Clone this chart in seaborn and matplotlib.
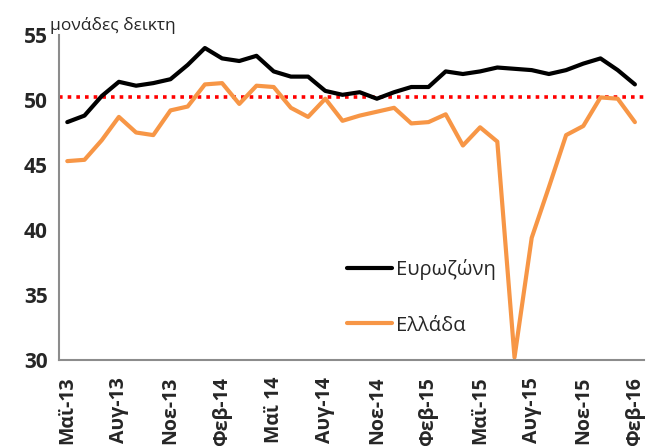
import pandas as pd
import matplotlib
matplotlib.use("Agg")
import matplotlib.pyplot as plt
from matplotlib.ticker import FixedLocator
import seaborn as sns

# ── Data (monthly, May-13 .. Feb-16) ──────────────────────────────────────────
months = [
    "Μαϊ-13", "Ιουν-13", "Ιουλ-13", "Αυγ-13", "Σεπ-13", "Οκτ-13", "Νοε-13", "Δεκ-13",
    "Ιαν-14", "Φεβ-14", "Μαρ-14", "Απρ-14", "Μαϊ 14", "Ιουν-14", "Ιουλ-14", "Αυγ-14",
    "Σεπ-14", "Οκτ-14", "Νοε-14", "Δεκ-14", "Ιαν-15", "Φεβ-15", "Μαρ-15", "Απρ-15",
    "Μαϊ-15", "Ιουν-15", "Ιουλ-15", "Αυγ-15", "Σεπ-15", "Οκτ-15", "Νοε-15", "Δεκ-15",
    "Ιαν-16", "Φεβ-16",
]
eurozone = [
    48.3, 48.8, 50.3, 51.4, 51.1, 51.3, 51.6, 52.7, 54.0, 53.2, 53.0, 53.4,
    52.2, 51.8, 51.8, 50.7, 50.4, 50.6, 50.1, 50.6, 51.0, 51.0, 52.2, 52.0,
    52.2, 52.5, 52.4, 52.3, 52.0, 52.3, 52.8, 53.2, 52.3, 51.2,
]
greece = [
    45.3, 45.4, 46.9, 48.7, 47.5, 47.3, 49.2, 49.5, 51.2, 51.3, 49.7, 51.1,
    51.0, 49.4, 48.7, 50.1, 48.4, 48.8, 49.1, 49.4, 48.2, 48.3, 48.9, 46.5,
    47.9, 46.8, 30.2, 39.4, 43.3, 47.3, 48.0, 50.2, 50.1, 48.3,
]
threshold = 50.2
label_every = 3

df = pd.DataFrame({"idx": range(len(months)), "Ευρωζώνη": eurozone, "Ελλάδα": greece})

# ── Style ─────────────────────────────────────────────────────────────────────
sns.set_style("white")
plt.rcParams["font.family"] = ["Open Sans", "DejaVu Sans"]

fig = plt.figure(figsize=(6.47, 4.46), dpi=100)
ax = fig.add_axes([0.0907, 0.1928, 0.9039, 0.7287])

sns.lineplot(data=df, x="idx", y="Ευρωζώνη", ax=ax, color="black", linewidth=3.0, label="Ευρωζώνη")
sns.lineplot(data=df, x="idx", y="Ελλάδα", ax=ax, color="#F79646", linewidth=3.0, label="Ελλάδα")
ax.axhline(threshold, color="#FF0000", linewidth=2.6, linestyle=(0, (1, 1.4)), zorder=1)

ax.set_xlim(-0.5, len(months) - 0.5)
ax.set_ylim(30, 55)
ax.set_yticks([30, 35, 40, 45, 50, 55])
ax.set_xlabel("")
ax.set_ylabel("")

# labels centred on categories, tick marks between them
label_pos = list(range(0, len(months), label_every))
ax.set_xticks(label_pos)
ax.set_xticklabels([months[i] for i in label_pos], rotation=90, fontsize=14, fontweight="bold")
ax.xaxis.set_minor_locator(FixedLocator([i - 0.5 for i in label_pos]))
ax.tick_params(axis="x", which="major", length=0, pad=12)
ax.tick_params(axis="x", which="minor", length=7, width=1.5, color="#8C8C8C", direction="out")
ax.tick_params(axis="y", length=6, width=1.5, color="#8C8C8C", direction="out", labelsize=15, pad=2)
for lbl in ax.get_yticklabels():
    lbl.set_fontweight("bold")

for side in ["top", "right"]:
    ax.spines[side].set_visible(False)
for side in ["left", "bottom"]:
    ax.spines[side].set_color("#8C8C8C")
    ax.spines[side].set_linewidth(1.5)

ax.legend(loc="upper left", bbox_to_anchor=(0.493, 0.31), frameon=False, fontsize=14.5,
          handlelength=2.25, handletextpad=0.2, labelspacing=1.75, borderpad=0, borderaxespad=0)

fig.text(50 / 647, 1 - 25 / 446, "μονάδες δεικτη", fontsize=12.5, va="center", ha="left")

fig.savefig("out.png", dpi=100)
